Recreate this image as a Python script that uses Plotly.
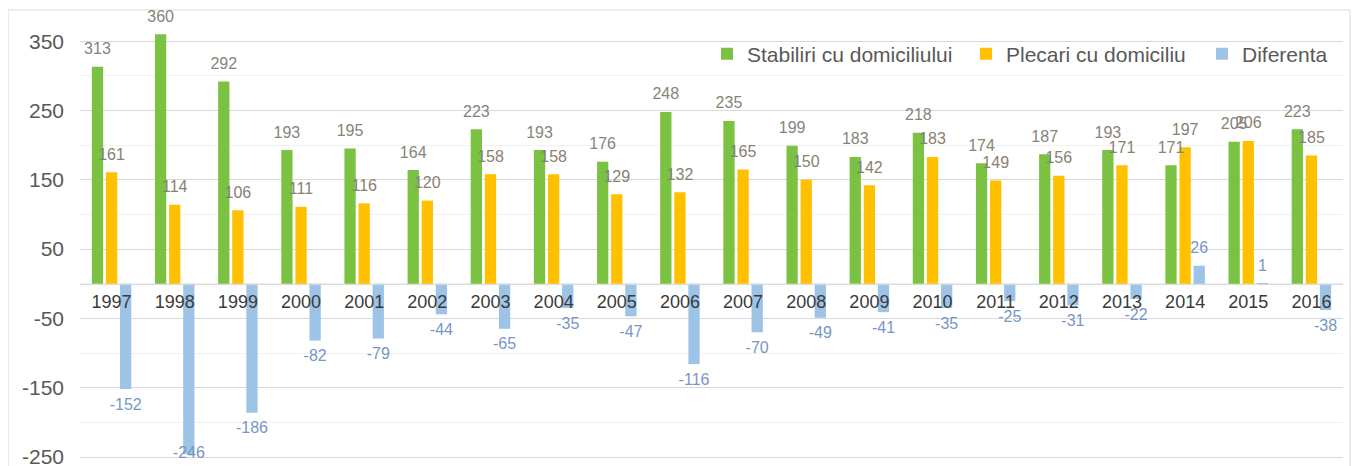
import plotly.graph_objects as go

years = ["1997", "1998", "1999", "2000", "2001", "2002", "2003", "2004", "2005", "2006",
         "2007", "2008", "2009", "2010", "2011", "2012", "2013", "2014", "2015", "2016"]
stabiliri = [313, 360, 292, 193, 195, 164, 223, 193, 176, 248,
             235, 199, 183, 218, 174, 187, 193, 171, 205, 223]
plecari = [161, 114, 106, 111, 116, 120, 158, 158, 129, 132,
           165, 150, 142, 183, 149, 156, 171, 197, 206, 185]
diferenta = [-152, -246, -186, -82, -79, -44, -65, -35, -47, -116,
             -70, -49, -41, -35, -25, -31, -22, 26, 1, -38]

y_tickvals = [350, 250, 150, 50, -50, -150, -250]
y_ticktext = ["350", "250", "150", "50", "-50", "-150", "-250"]

names = ["Stabiliri cu domiciliului", "Plecari cu domiciliu", "Diferenta"]
groups = ["s", "p", "d"]
colors = ["#7cc242", "#ffc000", "#9dc3e6"]
label_colors = ["#858578", "#8a8070", "#7896c4"]
legend_widths = [214, 191, None]

FONT = "Liberation Sans, Arial, sans-serif"
Y_MIN, Y_MAX = -274.5, 395
GAP = 0.33

fig = go.Figure()
for name, grp, vals, col, lw in zip(names, groups, [stabiliri, plecari, diferenta], colors, legend_widths):
    fig.add_trace(go.Bar(
        x=years, y=vals, name=name, offsetgroup=grp,
        marker=dict(color=col, line=dict(width=0)),
        legendwidth=lw,
        hoverinfo="x+y+name",
    ))

# value labels, grouped like the bars, pushed a little away from the bar ends
for grp, vals, lcol in zip(groups, [stabiliri, plecari, diferenta], label_colors):
    pos = []
    for v in vals:
        if v >= 0:
            pos.append("top center")
        elif v < Y_MIN + 40:
            pos.append("middle center")
        else:
            pos.append("bottom center")
    fig.add_trace(go.Scatter(
        x=years, y=vals, offsetgroup=grp, mode="markers+text",
        marker=dict(size=12, opacity=0),
        text=[str(v) for v in vals], textposition=pos,
        textfont=dict(family=FONT, size=16, color=lcol),
        cliponaxis=False, showlegend=False, hoverinfo="skip",
    ))

zero_pos = (0 - Y_MIN) / (Y_MAX - Y_MIN)
PLOT_W = 1263

fig.update_layout(
    width=1360, height=466,
    margin=dict(l=72, r=25, t=2, b=0),
    paper_bgcolor="white", plot_bgcolor="white",
    barmode="group", bargap=GAP, bargroupgap=0.2,
    scattermode="group", scattergap=GAP,
    font=dict(family=FONT, color="#595959"),
    showlegend=True,
    legend=dict(
        orientation="h", x=(1333 - 80) / PLOT_W, xanchor="right", y=0.905, yanchor="middle",
        font=dict(family=FONT, size=21, color="#595959"),
        bgcolor="rgba(0,0,0,0)", itemwidth=30, traceorder="normal",
    ),
    xaxis=dict(
        type="category", anchor="free", position=zero_pos,
        showline=True, linecolor="#d9d9d9", linewidth=1,
        showgrid=False, ticks="",
        tickfont=dict(family=FONT, size=18, color="#3a3a3a"),
        ticklabelstandoff=2,
    ),
    yaxis=dict(
        range=[Y_MIN, Y_MAX], tickvals=y_tickvals, ticktext=y_ticktext,
        showgrid=True, gridcolor="#d9d9d9", gridwidth=1,
        zeroline=False, showline=False, ticks="",
        tickfont=dict(family=FONT, size=21, color="#595959"),
        ticklabelstandoff=15,
        minor=dict(tick0=0, dtick=50, showgrid=True, gridcolor="#f1f1f1", gridwidth=1),
    ),
    shapes=[dict(
        type="rect", xref="paper", yref="paper",
        x0=(8 - 80) / PLOT_W, x1=(1350 - 80) / PLOT_W, y0=-0.1, y1=1.0,
        line=dict(color="#d9d9d9", width=1), fillcolor="rgba(0,0,0,0)", layer="below",
    )],
)

fig.write_html("out.html")
